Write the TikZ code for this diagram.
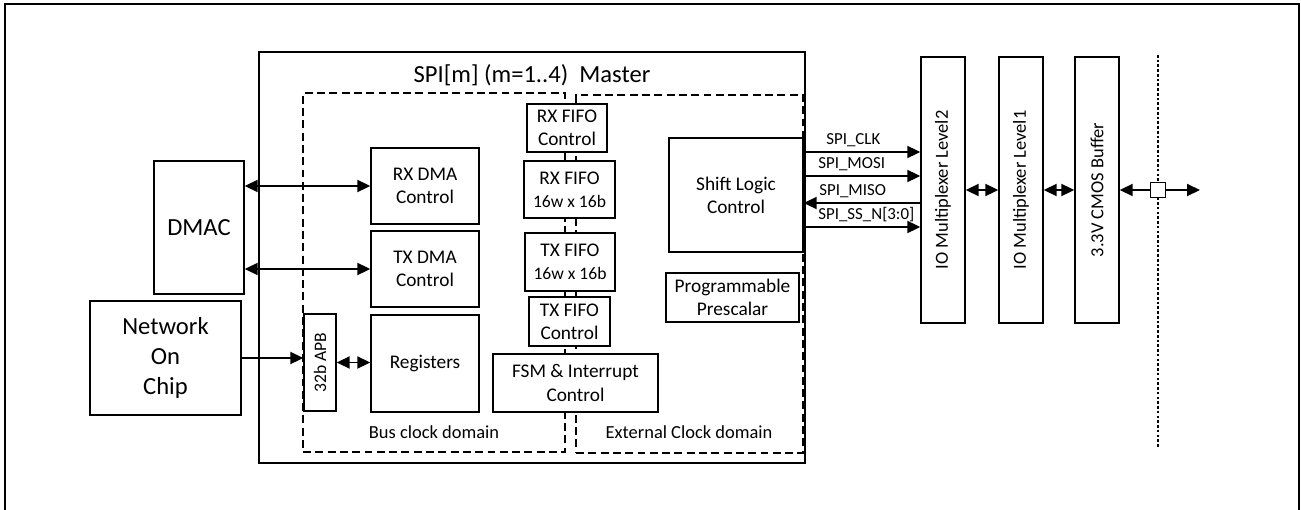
\documentclass[tikz,border=0pt]{standalone}
\usepackage{fontspec}
\setmainfont{Carlito}
\usetikzlibrary{arrows.meta}
\tikzset{
  blk/.style={draw, fill=white, line width=0.8pt, align=center, inner sep=1pt,
    font=\fontsize{11}{13.2}\selectfont},
  bigblk/.style={blk, font=\fontsize{14}{17}\selectfont},
  vblk/.style={blk, rotate=90, font=\fontsize{10.5}{12.6}\selectfont},
  clkdom/.style={draw, dash pattern=on 4.5pt off 2.5pt, line width=0.7pt, inner sep=0pt},
  domlbl/.style={font=\fontsize{10.5}{12.6}\selectfont, inner sep=1pt},
  siglbl/.style={font=\fontsize{9.6}{11.5}\selectfont, inner sep=0pt, anchor=base west},
  >={Triangle[length=2.6mm, width=2.4mm]},
  biarr/.style={<->, line width=1.1pt},
  sarr/.style={line width=1.1pt},
}
\begin{document}
\begin{tikzpicture}[x=0.02cm, y=-0.02cm]
  \useasboundingbox (0,0) rectangle (1301,510);
  \draw[line width=1.2pt] (5,510) -- (5,4) -- (1299,4) -- (1299,510);

  % SPI master block and its two clock domains
  \node[draw, line width=0.8pt, minimum width=10.92cm, minimum height=8.22cm, inner sep=0pt] (spi) at (532,257.5) {};
  \node[font=\fontsize{14}{17}\selectfont] (title) at (532,75) {SPI[m] (m=1..4)\ \ Master};
  \node[clkdom, minimum width=5.24cm, minimum height=7.18cm] (bus) at (434,272.5) {};
  \node[clkdom, minimum width=4.54cm, minimum height=7.16cm] (ext) at (689.5,274) {};
  \node[domlbl] (buslbl) at (434,432) {Bus clock domain};
  \node[domlbl] (extlbl) at (689,432) {External Clock domain};

  % outside the block
  \node[bigblk, minimum width=1.8cm, minimum height=2.66cm] (dmac) at (199,227.5) {DMAC};
  \node[bigblk, minimum width=3.02cm, minimum height=2.28cm] (noc) at (165.5,358) {Network\\On\\Chip};

  % bus clock side
  \node[blk, rotate=90, font=\fontsize{10}{12}\selectfont, minimum width=1.94cm, minimum height=0.64cm] (apb) at (320,362.5) {32b APB};
  \node[blk, minimum width=2.16cm, minimum height=1.52cm] (rxdma) at (425,186) {RX DMA\\Control};
  \node[blk, minimum width=2.16cm, minimum height=1.52cm] (txdma) at (425,269) {TX DMA\\Control};
  \node[blk, minimum width=2.16cm, minimum height=1.94cm] (regs) at (425,363.5) {Registers};

  % FIFOs across the two domains
  \node[blk, minimum width=1.6cm, minimum height=0.96cm] (rxfc) at (567,128) {RX FIFO\\Control};
  \node[blk, minimum width=1.82cm, minimum height=1.14cm] (rxf) at (569.5,189.5) {RX FIFO\\{\fontsize{10}{12}\selectfont 16w x 16b}};
  \node[blk, minimum width=1.8cm, minimum height=1.16cm] (txf) at (570,262) {TX FIFO\\{\fontsize{10}{12}\selectfont 16w x 16b}};
  \node[blk, minimum width=1.62cm, minimum height=0.98cm] (txfc) at (569.5,321.5) {TX FIFO\\Control};
  \node[blk, minimum width=3.3cm, minimum height=1.16cm] (fsm) at (575.5,383) {FSM \& Interrupt\\Control};

  % external clock side
  \node[blk, minimum width=2.68cm, minimum height=2.28cm] (shift) at (736,195) {Shift Logic\\Control};
  \node[blk, minimum width=2.66cm, minimum height=0.98cm] (presc) at (732.5,297.5) {Programmable\\Prescalar};

  % pad side
  \node[vblk, minimum width=5.32cm, minimum height=0.88cm] (mux2) at (943,190) {IO Multiplexer Level2};
  \node[vblk, minimum width=5.32cm, minimum height=0.88cm] (mux1) at (1021,190) {IO Multiplexer Level1};
  \node[vblk, minimum width=5.32cm, minimum height=0.88cm] (buf) at (1097,190) {3.3V CMOS Buffer};

  % connections
  \draw[biarr] (dmac.east |- rxdma) -- (rxdma.west);
  \draw[biarr] (dmac.east |- txdma) -- (txdma.west);
  \draw[sarr, ->] (noc.east) -- (noc.east -| apb.north);
  \draw[biarr] (apb.south) -- (apb.south -| regs.west);

  % SPI signals
  \foreach \yy/\xx/\sig/\dir [count=\i] in {152/826/SPI\_CLK/->, 176/818/SPI\_MOSI/->,
      203/819/SPI\_MISO/<-, 227/818/SPI\_SS\_N[3:0]/->}
  {
    \draw[sarr, \dir] (shift.east |- 0,\yy) -- (mux2.north |- 0,\yy);
    \node[siglbl] (sig\i) at (\xx,\yy-8) {\sig};
  }
  \draw[biarr] (mux2.south) -- (mux1.north);
  \draw[biarr] (mux1.south) -- (buf.north);

  % pad and board edge
  \coordinate (dtop) at (1158,55);
  \coordinate (dbot) at (1158,448);
  \coordinate (pin) at (1200,190);
  \draw[line width=1pt, dash pattern=on 1.5pt off 1.2pt] (dtop) -- (dbot);
  \draw[biarr] (buf.south) -- (pin);
  \node[draw, fill=white, line width=0.8pt, minimum size=0.3cm, inner sep=0pt] (pad) at (1158,190) {};
\end{tikzpicture}
\end{document}
